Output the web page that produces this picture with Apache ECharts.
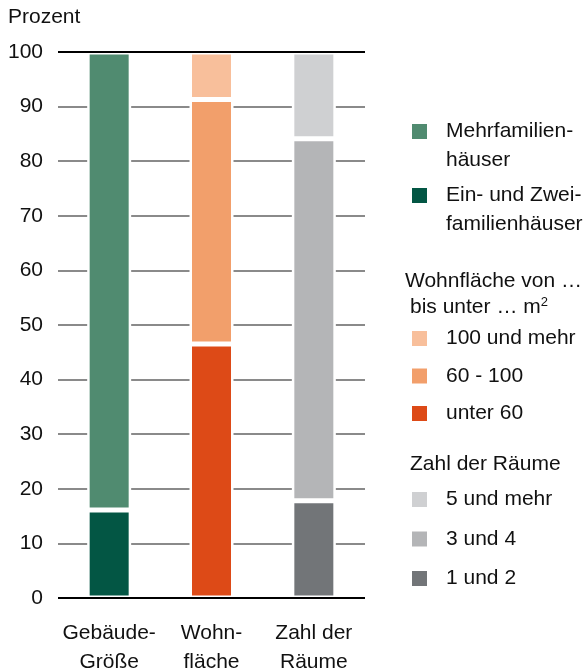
<!DOCTYPE html>
<html>
<head>
<meta charset="utf-8">
<script src="https://cdn.jsdelivr.net/npm/echarts@6/dist/echarts.min.js"></script>
<style>
  html, body { margin: 0; padding: 0; background: #fff; }
  #chart { width: 587px; height: 672px; }
</style>
</head>
<body>
<div id="chart"></div>
<script>
// Daten
const categories = ['Gebäude-\nGröße', 'Wohn-\nfläche', 'Zahl der\nRäume']
const gebaeudeNames = ['Ein- und Zwei-\nfamilienhäuser', 'Mehrfamilien-\nhäuser']
const gebaeudeValues = [16.1, 83.9]
const flaecheNames = ['unter 60', '60 - 100', '100 und mehr']
const flaecheValues = [46.5, 44.8, 8.7]
const raeumeNames = ['1 und 2', '3 und 4', '5 und mehr']
const raeumeValues = [17.8, 66.3, 15.9]

// Farben
const gebaeudeColors = ['#035644', '#508b70']
const flaecheColors = ['#dd4a17', '#f29f6b', '#f8bf9b']
const raeumeColors = ['#727578', '#b4b5b7', '#cfd0d2']

const font = 'Liberation Sans, Arial, sans-serif'
const fs = 21
const textColor = '#111'

const series = []
function addGroup(names, values, colors, catIndex) {
  names.forEach((name, i) => {
    const data = categories.map((c, k) => (k === catIndex ? values[i] : '-'))
    series.push({
      name: name,
      type: 'bar',
      stack: 'total',
      barWidth: 44,
      data: data,
      itemStyle: { color: colors[i], borderColor: '#fff', borderWidth: 2.5 },
      emphasis: { disabled: true }
    })
  })
}
addGroup(gebaeudeNames, gebaeudeValues, gebaeudeColors, 0)
addGroup(flaecheNames, flaecheValues, flaecheColors, 1)
addGroup(raeumeNames, raeumeValues, raeumeColors, 2)

// schwarze Linien bei 0 und 100 über den Balken
series[series.length - 1].markLine = {
  silent: true,
  symbol: 'none',
  label: { show: false },
  lineStyle: { color: '#000', width: 2, type: 'solid' },
  data: [{ yAxis: 0 }, { yAxis: 100 }]
}

const legendBase = {
  orient: 'vertical',
  left: 410,
  padding: 0,
  itemWidth: 17,
  itemHeight: 17,
  icon: 'rect',
  selectedMode: false,
  textStyle: { fontFamily: font, fontSize: fs, color: textColor, padding: [0, 0, 0, 13] }
}
const twoLineText = { fontFamily: font, fontSize: fs, color: textColor, lineHeight: 29, padding: [0, 0, 0, 13] }

const option = {
  animation: false,
  color: gebaeudeColors.concat(flaecheColors, raeumeColors),
  title: {
    text: 'Prozent',
    left: 8,
    top: 7,
    padding: 0,
    textStyle: { fontFamily: font, fontSize: fs, fontWeight: 'normal', color: textColor }
  },
  grid: { left: 58, right: 222, top: 52, bottom: 74, containLabel: false, outerBoundsMode: 'none' },
  xAxis: {
    type: 'category',
    data: categories,
    axisLine: { show: false },
    axisTick: { show: false },
    axisLabel: { interval: 0, fontFamily: font, fontSize: fs, color: textColor, lineHeight: 29, margin: 21 }
  },
  yAxis: {
    type: 'value',
    min: 0,
    max: 100,
    interval: 10,
    axisLine: { show: false },
    axisTick: { show: false },
    axisLabel: { fontFamily: font, fontSize: fs, color: textColor, margin: 15 },
    splitLine: { lineStyle: { color: '#8a8a8a', width: 2 } }
  },
  legend: [
    Object.assign({}, legendBase, {
      top: 88, data: [gebaeudeNames[1]], textStyle: twoLineText,
      formatter: name => '\n' + name
    }),
    Object.assign({}, legendBase, {
      top: 152, data: [gebaeudeNames[0]], textStyle: twoLineText,
      formatter: name => '\n' + name
    }),
    Object.assign({}, legendBase, { top: 328, itemGap: 16.5, data: flaecheNames.slice().reverse() }),
    Object.assign({}, legendBase, { top: 489, itemGap: 18.5, data: raeumeNames.slice().reverse() })
  ],
  graphic: [
    {
      type: 'text', left: 405, top: 271,
      style: { text: 'Wohnfläche von …', font: fs + 'px ' + font, fill: textColor }
    },
    {
      type: 'text', left: 410, top: 296,
      style: {
        text: 'bis unter … m{sup|2}',
        font: fs + 'px ' + font,
        fill: textColor,
        rich: { sup: { fontSize: 13, fontFamily: font, verticalAlign: 'top', padding: [0, 0, 10, 0] } }
      }
    },
    {
      type: 'text', left: 410, top: 454,
      style: { text: 'Zahl der Räume', font: fs + 'px ' + font, fill: textColor }
    }
  ],
  series: series
}

const chart = echarts.init(document.getElementById('chart'))
chart.setOption(option)
</script>
</body>
</html>
